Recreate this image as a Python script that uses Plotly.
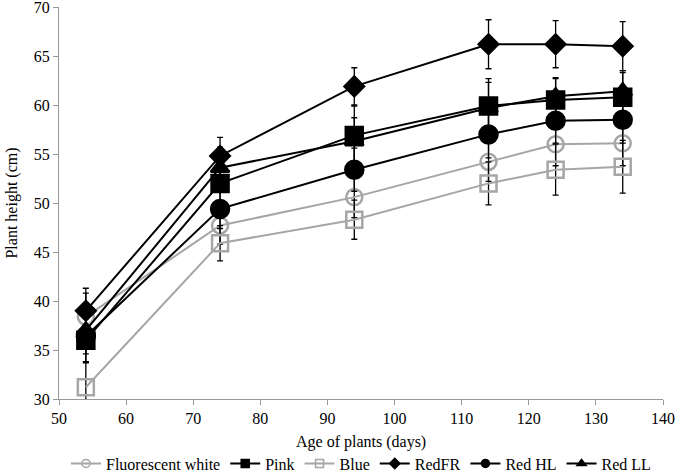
import plotly.graph_objects as go

days = [54, 74, 94, 114, 124, 134]

series_names = ['Fluorescent white', 'Pink', 'Blue', 'RedFR', 'Red HL', 'Red LL']

fluorescent_white = [38.4, 47.7, 50.6, 54.2, 56.0, 56.1]
pink = [36.0, 52.0, 56.9, 59.9, 60.5, 60.8]
blue = [31.2, 45.9, 48.3, 52.0, 53.4, 53.7]
red_fr = [39.0, 54.8, 61.9, 66.2, 66.2, 66.0]
red_hl = [36.4, 49.4, 53.4, 57.0, 58.4, 58.5]
red_ll = [37.0, 53.6, 56.3, 59.7, 60.9, 61.4]

err_fw = [2.4, 1.9, 2.1, 2.0, 2.2, 2.3]
err_pink = [2.2, 2.0, 3.0, 2.8, 2.2, 2.5]
err_blue = [2.5, 1.8, 2.0, 2.2, 2.6, 2.7]
err_red_fr = [2.3, 1.9, 1.9, 2.5, 2.4, 2.5]
err_red_hl = [2.6, 2.0, 2.2, 2.4, 2.3, 2.4]
err_red_ll = [2.4, 2.1, 2.4, 2.6, 1.9, 2.1]

GRAY = '#A6A6A6'
BLACK = '#000000'

styles = [
    (fluorescent_white, err_fw, GRAY, 'circle-open', 16),
    (pink, err_pink, BLACK, 'square', 17),
    (blue, err_blue, GRAY, 'square-open', 16),
    (red_fr, err_red_fr, BLACK, 'diamond', 15),
    (red_hl, err_red_hl, BLACK, 'circle', 18),
    (red_ll, err_red_ll, BLACK, 'triangle-up', 16),
]

fig = go.Figure()
for name, (vals, errs, color, symbol, size) in zip(series_names, styles):
    fig.add_trace(go.Scatter(
        x=days, y=vals, name=name, mode='lines+markers',
        legendgroup=name, showlegend=False,
        line=dict(color=color, width=2),
        marker=dict(symbol=symbol, size=size, color=color,
                    line=dict(color=color, width=2.5)),
        error_y=dict(type='data', array=errs, visible=True,
                     color=BLACK, thickness=1.3, width=3),
    ))

# smaller symbols for the legend, as in the original
for name, (vals, errs, color, symbol, size) in zip(series_names, styles):
    fig.add_trace(go.Scatter(
        x=[None], y=[None], name=name, mode='lines+markers',
        legendgroup=name, showlegend=True,
        line=dict(color=color, width=2),
        marker=dict(symbol=symbol, size=8, color=color,
                    line=dict(color=color, width=1.5)),
    ))

axis_font = dict(family='Liberation Serif, Times New Roman, serif', size=16, color='black')

# x title as a paper annotation so it does not push the margins
fig.add_annotation(text='Age of plants (days)', xref='paper', yref='paper',
                   x=0.5, y=-0.11, xanchor='center', yanchor='middle',
                   showarrow=False, font=axis_font)

fig.update_layout(
    width=677, height=474,
    margin=dict(l=59, r=14, t=7, b=75),
    plot_bgcolor='white', paper_bgcolor='white',
    font=axis_font,
    legend=dict(orientation='h', x=0.5, xanchor='center', yref='container',
                y=0.022, yanchor='middle', font=axis_font, itemwidth=30,
                tracegroupgap=0),
    xaxis=dict(range=[50, 140], dtick=10, showline=True, linecolor='#999999',
               ticks='outside', tickcolor='#999999', ticklen=5, showgrid=False,
               zeroline=False, tickfont=axis_font, ticklabeloverflow='allow',
               automargin=False),
    yaxis=dict(range=[30, 70], dtick=5, showline=True, linecolor='#999999',
               ticks='outside', tickcolor='#999999', ticklen=5, showgrid=False,
               zeroline=False, tickfont=axis_font, ticklabeloverflow='allow',
               automargin=False,
               title=dict(text='Plant height (cm)', font=axis_font, standoff=12)),
)

fig.write_html('out.html', config={'displayModeBar': False},
               post_script="document.body.style.margin='0';")
